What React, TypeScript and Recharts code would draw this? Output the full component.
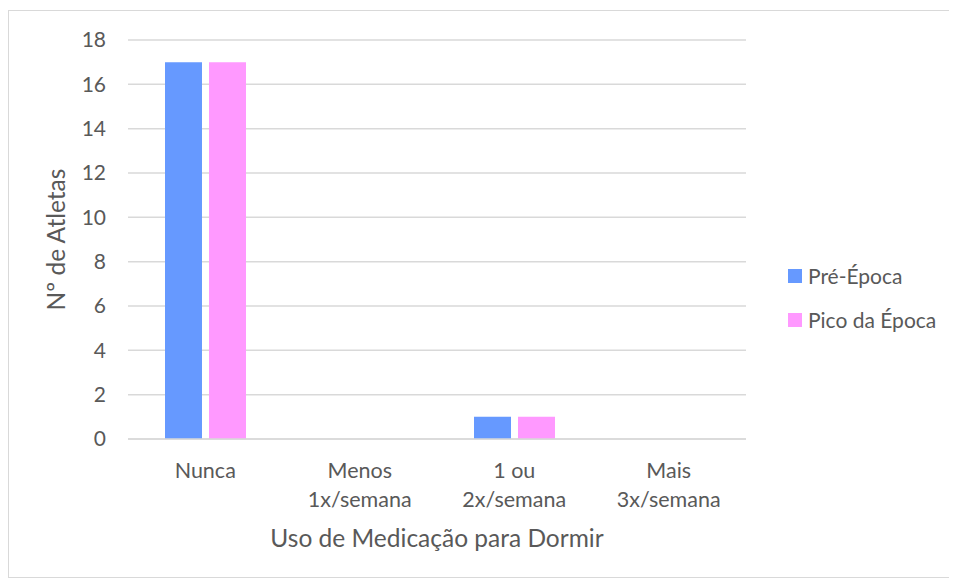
import React from 'react';
import { BarChart, Bar, XAxis, YAxis, CartesianGrid, Legend } from 'recharts';

const categories = ['Nunca', 'Menos\n1x/semana', '1 ou\n2x/semana', 'Mais\n3x/semana'];
const preEpoca = [17, 0, 1, 0];
const picoEpoca = [17, 0, 1, 0];
const yTicks = [0, 2, 4, 6, 8, 10, 12, 14, 16, 18];

const seriesInfo = [
  { key: 'pre', name: 'Pré-Época', color: '#6699FF' },
  { key: 'pico', name: 'Pico da Época', color: '#FF99FF' },
];

const data = categories.map((cat, i) => ({
  cat,
  pre: preEpoca[i],
  pico: picoEpoca[i],
}));

const FONT = 'Lato, "Open Sans", sans-serif';
const TXT = '#595959';

const XTick = (props: any) => {
  const { x, y, payload } = props;
  const lines = String(payload.value).split('\n');
  return (
    <text x={x} y={y} textAnchor="middle" fill={TXT} fontSize={21.5} fontFamily={FONT}>
      {lines.map((l, i) => (
        <tspan key={i} x={x} dy={i === 0 ? 39 : 29}>
          {l}
        </tspan>
      ))}
    </text>
  );
};

const LegendBox = () => (
  <div style={{ fontFamily: FONT, fontSize: 21, color: TXT }}>
    {seriesInfo.map((s) => (
      <div
        key={s.key}
        style={{ display: 'flex', alignItems: 'center', height: 14, lineHeight: '14px', marginBottom: 30, whiteSpace: 'nowrap' }}
      >
        <span style={{ width: 14, height: 14, background: s.color, display: 'inline-block', marginRight: 6 }} />
        <span>{s.name}</span>
      </div>
    ))}
  </div>
);

export default function App() {
  return (
    <div style={{ paddingTop: 2 }}>
      <div style={{ width: 949, height: 568, border: '1px solid #d9d9d9', boxSizing: 'border-box', background: '#fff' }}>
        <BarChart
          width={947}
          height={566}
          data={data}
          margin={{ top: 29, right: 210, bottom: 0, left: 0 }}
          barCategoryGap={37}
          barGap={7}
        >
          <CartesianGrid vertical={false} stroke="#d9d9d9" strokeWidth={1.5} />
          <XAxis
            dataKey="cat"
            height={138}
            tickLine={false}
            tickSize={0}
            tickMargin={0}
            axisLine={{ stroke: '#d9d9d9', strokeWidth: 1.5 }}
            tick={<XTick />}
            interval={0}
            label={{
              content: (p: any) => {
                const vb = p.viewBox;
                return (
                  <text x={vb.x + vb.width / 2} y={vb.y + 108} textAnchor="middle" fill={TXT} fontSize={24.5} fontFamily={FONT}>
                    Uso de Medicação para Dormir
                  </text>
                );
              },
            }}
          />
          <YAxis
            width={119}
            domain={[0, 18]}
            ticks={yTicks}
            axisLine={false}
            tickLine={false}
            tickSize={0}
            tickMargin={22}
            tick={{ fill: TXT, fontSize: 21, fontFamily: FONT }}
            label={{
              content: (p: any) => {
                const vb = p.viewBox;
                const cx = 56;
                const cy = vb.y + vb.height / 2;
                return (
                  <text x={cx} y={cy} transform={`rotate(-90 ${cx} ${cy})`} textAnchor="middle" fill={TXT} fontSize={24.5} fontFamily={FONT}>
                    Nº de Atletas
                  </text>
                );
              },
            }}
          />
          <Legend
            layout="horizontal"
            verticalAlign="middle"
            align="center"
            content={<LegendBox />}
            wrapperStyle={{ left: 779, top: 258, width: 170 }}
          />
          {seriesInfo.map((s) => (
            <Bar key={s.key} dataKey={s.key} name={s.name} fill={s.color} isAnimationActive={false} />
          ))}
        </BarChart>
      </div>
    </div>
  );
}
